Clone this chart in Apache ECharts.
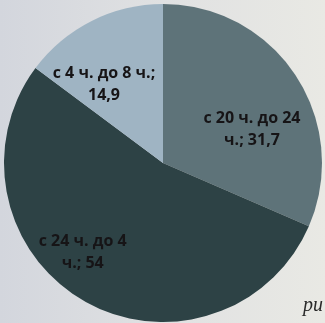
<!DOCTYPE html>
<html><head><meta charset="utf-8">
<script src="https://cdn.jsdelivr.net/npm/echarts@6/dist/echarts.min.js"></script>
<style>html,body{margin:0;padding:0;}#c{width:325px;height:323px;}</style>
</head><body><div id="c"></div>
<script>
const categories = ["с 20 ч. до 24\nч.", "с 24 ч. до 4\nч.", "с 4 ч. до 8 ч.;\n"];
const values = [31.7, 54, 14.9];
const colors = ["#5e7379", "#2d4245", "#9fb4c3"];
const labelOffsets = [[20, 12], [-39, 18], [-22, -5]];

const chart = echarts.init(document.getElementById('c'), null, {renderer: 'canvas'});
chart.setOption({
  backgroundColor: {
    type: 'linear', x: 0, y: 0, x2: 1, y2: 0,
    colorStops: [{offset: 0, color: '#d3d6dd'}, {offset: 0.5, color: '#e0e1e2'}, {offset: 1, color: '#e9e9e4'}]
  },
  graphic: [{
    type: 'text', left: 303, top: 296,
    style: {text: 'ри', fill: '#2a2a2a', font: 'italic 20px "Liberation Serif"'}
  }],
  series: [{
    type: 'pie',
    center: [163, 163],
    radius: [0, 159],
    startAngle: 90,
    clockwise: true,
    animation: false,
    silent: true,
    itemStyle: {borderWidth: 0},
    label: {
      show: true,
      position: 'inside',
      color: '#161416',
      fontFamily: '"Open Sans", sans-serif',
      fontWeight: 'bold',
      fontSize: 16,
      lineHeight: 22,
      formatter: p => {
        const v = String(p.value).replace('.', ',');
        return p.name.endsWith('\n') ? p.name + v : p.name + '; ' + v;
      }
    },
    labelLine: {show: false},
    data: categories.map((n, i) => ({
      name: n, value: values[i],
      itemStyle: {color: colors[i]},
      label: {offset: labelOffsets[i]}
    }))
  }]
});
</script></body></html>
